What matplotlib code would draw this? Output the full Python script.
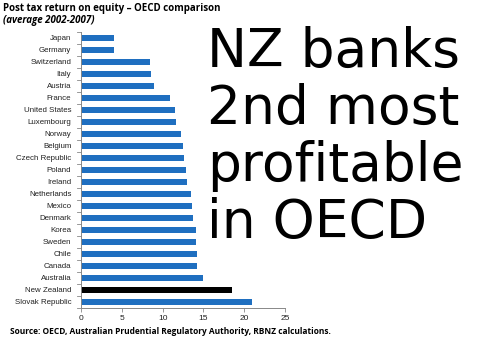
import matplotlib

matplotlib.use("Agg")

import matplotlib.pyplot as plt

countries = [
    "Japan", "Germany", "Switzerland", "Italy", "Austria", "France",
    "United States", "Luxembourg", "Norway", "Belgium", "Czech Republic",
    "Poland", "Ireland", "Netherlands", "Mexico", "Denmark", "Korea",
    "Sweden", "Chile", "Canada", "Australia", "New Zealand", "Slovak Republic",
]
roe = [
    4.0, 4.0, 8.5, 8.6, 9.0, 10.9, 11.5, 11.7, 12.3, 12.5, 12.6,
    12.9, 13.0, 13.5, 13.6, 13.7, 14.1, 14.1, 14.2, 14.2, 15.0, 18.5, 21.0,
]
x_ticks = [0, 5, 10, 15, 20, 25]
headline = ["NZ banks", "2nd most", "profitable", "in OECD"]

W, H = 500, 341
fig = plt.figure(figsize=(W / 100, H / 100), dpi=100)
ax = fig.add_axes([81 / W, 1 - 308 / H, 204 / W, 276 / H])

colors = ["#000000" if c == "New Zealand" else "#1F6FC0" for c in countries]
ax.barh(range(len(countries)), roe, height=0.45, color=colors)

ax.set_ylim(len(countries) - 0.5, -0.5)
ax.set_xlim(0, 25)
ax.set_yticks(range(len(countries)))
ax.set_yticklabels(countries, family="Liberation Sans", fontsize=5.7, color="#222222")
ax.set_xticks(x_ticks)
ax.set_xticklabels([str(t) for t in x_ticks], family="Liberation Sans", fontsize=6,
                   color="#222222")
ax.tick_params(axis="y", length=0, pad=7)
ax.tick_params(axis="x", length=3, width=0.6, color="#888888", pad=2)

# small marks between the categories on the y spine
for i in range(len(countries) + 1):
    ax.plot([-0.45, 0], [i - 0.5, i - 0.5], color="#888888", lw=0.6,
            clip_on=False)

for side in ["top", "right"]:
    ax.spines[side].set_visible(False)
for side in ["left", "bottom"]:
    ax.spines[side].set_color("#888888")
    ax.spines[side].set_linewidth(0.7)

fig.text(3 / W, 1 - 9 / H, "Post tax return on equity \u2013 OECD comparison",
         family="Open Sans", weight="bold", fontsize=7.0, va="center", ha="left")
fig.text(3 / W, 1 - 21 / H, "(average 2002-2007)", family="Open Sans",
         weight="bold", style="italic", fontsize=7.0, va="center", ha="left")

for k, line in enumerate(headline):
    fig.text(207 / W, 1 - (67 + 57 * k) / H, line, family="DejaVu Sans",
             fontsize=38.5, va="baseline", ha="left", color="#000000")

fig.text(10 / W, 1 - 332 / H,
         "Source: OECD, Australian Prudential Regulatory Authority, RBNZ calculations.",
         family="Open Sans", weight="bold", fontsize=6.05, va="center", ha="left")

fig.savefig("out.png", dpi=100)
